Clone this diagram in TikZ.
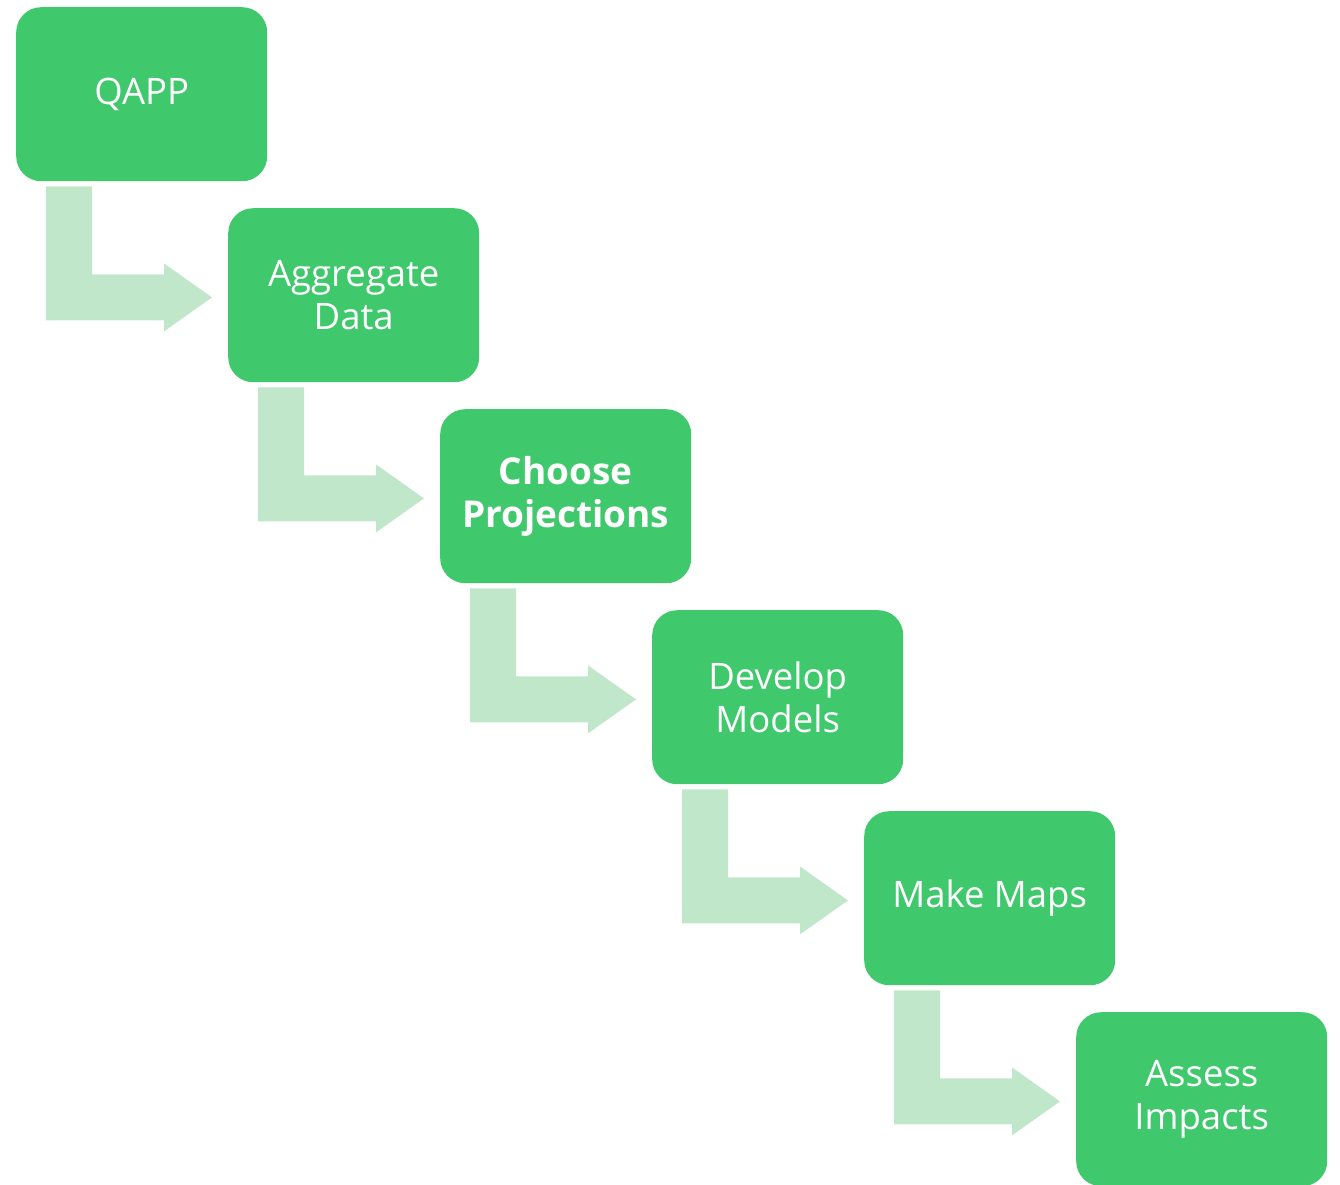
\documentclass[tikz,border=0pt]{standalone}
\usepackage{fontspec}
\setmainfont{Open Sans}
\definecolor{boxgreen}{HTML}{3FC86C}
\definecolor{arrowgreen}{HTML}{C1E7CB}
\begin{document}
\begin{tikzpicture}[x=1pt,y=-1pt,
  stage/.style={fill=boxgreen, rounded corners=25pt, minimum width=251pt, minimum height=174pt,
    inner sep=0pt, text=white, align=center, anchor=north west,
    font=\fontsize{36.5}{43}\selectfont},
  flow/.style={fill=arrowgreen}]
\useasboundingbox (0,0) rectangle (1340,1184);
\clip (0,0) rectangle (1340,1184);
\node[stage] (s0) at (16,7) {QAPP};
\node[stage] (s1) at (228,208) {Aggregate\\Data};
\node[stage, font=\fontsize{37}{43}\selectfont\bfseries] (s2) at (440,409) {Choose\\Projections};
\node[stage] (s3) at (652,610) {Develop\\Models};
\node[stage] (s4) at (864,811) {Make Maps};
\node[stage] (s5) at (1076,1012) {Assess\\Impacts};
\foreach \a in {0,...,4}{
  \fill[flow] ([shift={(30,5)}]s\a.south west) -- ([shift={(76,5)}]s\a.south west)
    -- ([shift={(76,93)}]s\a.south west) -- ([shift={(148,93)}]s\a.south west)
    -- ([shift={(148,82)}]s\a.south west) -- ([shift={(196,116)}]s\a.south west)
    -- ([shift={(148,150)}]s\a.south west) -- ([shift={(148,139)}]s\a.south west)
    -- ([shift={(30,139)}]s\a.south west) -- cycle;
}
\end{tikzpicture}
\end{document}
